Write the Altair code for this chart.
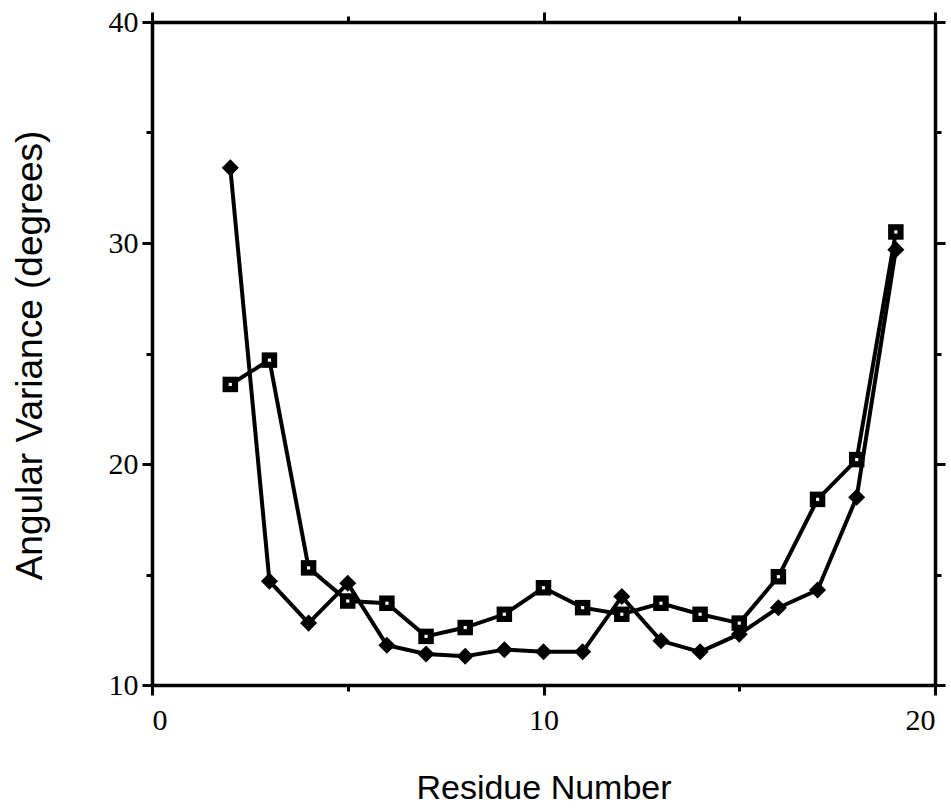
import altair as alt
import pandas as pd

# ---- data ----
residues = list(range(2, 20))
diamond_vals = [33.4, 14.7, 12.8, 14.6, 11.8, 11.4, 11.3, 11.6, 11.5, 11.5,
                14.0, 12.0, 11.5, 12.3, 13.5, 14.3, 18.5, 29.7]
square_vals = [23.6, 24.7, 15.3, 13.8, 13.7, 12.2, 12.6, 13.2, 14.4, 13.5,
               13.2, 13.7, 13.2, 12.8, 14.9, 18.4, 20.2, 30.5]
x_ticks = [0, 5, 10, 15, 20]
y_ticks = [10, 15, 20, 25, 30, 35, 40]
x_title = "Residue Number"
y_title = "Angular Variance (degrees)"

df = pd.DataFrame({
    "residue": residues * 2,
    "variance": diamond_vals + square_vals,
    "series": ["diamond"] * len(residues) + ["square"] * len(residues),
})
df_d = df[df.series == "diamond"]
df_s = df[df.series == "square"]

xs = alt.Scale(domain=[0, 20], nice=False, zero=False)
ys = alt.Scale(domain=[10, 40], nice=False, zero=False)

tick_size = {"condition": {"test": "datum.value % 10 === 0", "value": 10}, "value": 6}
label_expr = "datum.value % 10 === 0 ? datum.label : ''"

common = dict(
    grid=False, domainColor="black", domainWidth=3.5, tickColor="black",
    tickWidth=3, tickSize=tick_size, labelColor="black",
    labelFont="Liberation Serif", labelFontSize=30, titleColor="black",
    titleFont="Liberation Sans", titleFontWeight="normal",
)

bottom_axis = alt.Axis(orient="bottom", values=x_ticks, labelExpr=label_expr,
                       labelPadding=10, title=x_title, titleY=103, titleFontSize=34,
                       titleBaseline="middle", **common)
left_axis = alt.Axis(orient="left", values=y_ticks, labelExpr=label_expr,
                     labelPadding=4, title=y_title, titleX=-122, titleY=333,
                     titleFontSize=37,
                     titleBaseline="middle", titleAngle=-90, **common)
top_axis = alt.Axis(orient="top", values=x_ticks, labels=False, title=None, **common)
right_axis = alt.Axis(orient="right", values=y_ticks, labels=False, title=None, **common)

lines = alt.Chart(df).mark_line(color="black", strokeWidth=4).encode(
    x=alt.X("residue:Q", scale=xs, axis=bottom_axis),
    y=alt.Y("variance:Q", scale=ys, axis=left_axis),
    detail="series:N",
)

diamonds = alt.Chart(df_d).mark_point(
    shape="diamond", filled=True, size=290, color="black", opacity=1
).encode(
    x=alt.X("residue:Q", scale=xs, axis=top_axis),
    y=alt.Y("variance:Q", scale=ys, axis=right_axis),
)

squares = alt.Chart(df_s).mark_point(
    shape="square", filled=True, size=240, color="black", opacity=1
).encode(
    x=alt.X("residue:Q", scale=xs, axis=None),
    y=alt.Y("variance:Q", scale=ys, axis=None),
)

square_centers = alt.Chart(df_s).mark_point(
    shape="square", filled=True, size=10, color="white", opacity=1
).encode(
    x=alt.X("residue:Q", scale=xs, axis=None),
    y=alt.Y("variance:Q", scale=ys, axis=None),
)

chart = alt.layer(lines, diamonds, squares, square_centers).resolve_axis(
    x="independent", y="independent"
).properties(
    width=783, height=663,
    autosize=alt.AutoSizeParams(type="none"),
    padding={"left": 152, "top": 22, "right": 16, "bottom": 123},
    background="white",
).configure_view(stroke=None)

chart.save("out.html", embed_options={"renderer": "svg", "actions": False})
